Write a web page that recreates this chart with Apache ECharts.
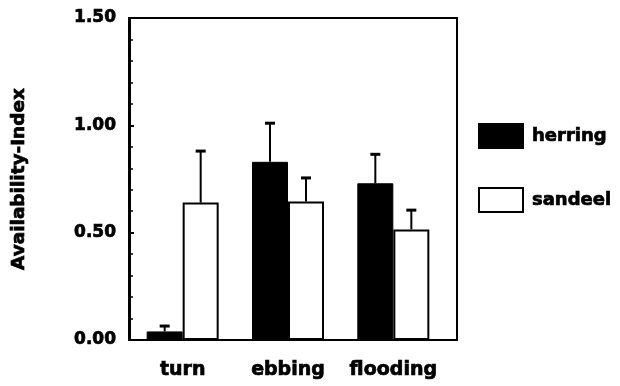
<!DOCTYPE html>
<html>
<head>
<meta charset="utf-8">
<script src="https://cdn.jsdelivr.net/npm/echarts@6/dist/echarts.min.js"></script>
<style>html,body{margin:0;padding:0;background:#fff}#c{width:620px;height:386px}</style>
</head>
<body>
<div id="c"></div>
<script>
var categories = ['turn', 'ebbing', 'flooding'];
var herring = [0.04, 0.83, 0.73];
var herringSE = [0.025, 0.18, 0.135];
var sandeel = [0.64, 0.645, 0.515];
var sandeelSE = [0.24, 0.11, 0.09];
var yTicks = [0, 0.5, 1.0, 1.5];

var FONT = 'DejaVu Sans';
var BAR_W = 36;
var HEAVY = { textBorderColor: '#000', textBorderWidth: 0.7 };

function errData(vals, se) {
  return vals.map(function (v, i) { return [i, v, v + se[i]]; });
}
function errRender(offset) {
  return function (params, api) {
    var base = api.coord([api.value(0), api.value(1)]);
    var top = api.coord([api.value(0), api.value(2)]);
    var x = base[0] + offset;
    return {
      type: 'group',
      children: [
        { type: 'line', shape: { x1: x, y1: base[1], x2: x, y2: top[1] }, style: { stroke: '#000', lineWidth: 2 } },
        { type: 'line', shape: { x1: x - 5, y1: top[1], x2: x + 5, y2: top[1] }, style: { stroke: '#000', lineWidth: 3 } }
      ]
    };
  };
}

var chart = echarts.init(document.getElementById('c'), null, { renderer: 'canvas' });
chart.setOption({
  animation: false,
  backgroundColor: '#fff',
  grid: [
    { left: 130, right: 174, top: 18, bottom: 46, show: false },
    { left: 129, right: 163, top: 18, bottom: 46, show: true, borderColor: '#000', borderWidth: 2, backgroundColor: 'transparent', z: 5 }
  ],
  legend: {
    orient: 'vertical', left: 473, top: 118,
    itemWidth: 44, itemHeight: 24, itemGap: 38,
    textStyle: Object.assign({ fontFamily: FONT, fontWeight: 'bold', fontSize: 18, color: '#000', padding: [0, 0, 0, 4] }, HEAVY),
    data: [
      { name: 'herring', icon: 'rect', itemStyle: { color: '#000', borderColor: '#000', borderWidth: 2 } },
      { name: 'sandeel', icon: 'rect', itemStyle: { color: '#fff', borderColor: '#000', borderWidth: 2 } }
    ]
  },
  xAxis: [
    {
      type: 'category', gridIndex: 0, data: categories,
      axisLine: { show: false }, axisTick: { show: false },
      axisLabel: Object.assign({ interval: 0, fontFamily: FONT, fontWeight: 'bold', fontSize: 19, color: '#000', margin: 21 }, HEAVY)
    },
    { type: 'value', gridIndex: 1, show: false, min: 0, max: 1 }
  ],
  yAxis: [
    {
      type: 'value', gridIndex: 0, min: 0, max: 1.5, interval: 0.5,
      name: 'Availability-Index', nameLocation: 'middle', nameGap: 101,
      nameTextStyle: Object.assign({ fontFamily: FONT, fontWeight: 'bold', fontSize: 18.5, color: '#000' }, HEAVY),
      axisLine: { show: true, lineStyle: { color: '#000', width: 2 } },
      axisTick: { show: true, inside: true, length: 4, lineStyle: { color: '#000', width: 2 } },
      minorTick: { show: true, splitNumber: 5, length: 3, lineStyle: { color: '#000', width: 1.5 } },
      splitLine: { show: false },
      axisLabel: Object.assign({
        fontFamily: FONT, fontWeight: 'bold', fontSize: 17, color: '#000', margin: 14,
        formatter: function (v) { return v.toFixed(2); }
      }, HEAVY)
    },
    { type: 'value', gridIndex: 1, show: false, min: 0, max: 1 }
  ],
  series: [
    {
      name: 'herring', type: 'bar', xAxisIndex: 0, yAxisIndex: 0, data: herring,
      barWidth: BAR_W, barGap: '0%',
      itemStyle: { color: '#000', borderColor: '#000', borderWidth: 1 }
    },
    {
      name: 'sandeel', type: 'bar', xAxisIndex: 0, yAxisIndex: 0, data: sandeel,
      barWidth: BAR_W, barGap: '0%',
      itemStyle: { color: '#fff', borderColor: '#000', borderWidth: 2 }
    },
    {
      type: 'custom', xAxisIndex: 0, yAxisIndex: 0, data: errData(herring, herringSE),
      renderItem: errRender(-BAR_W / 2), z: 3, silent: true
    },
    {
      type: 'custom', xAxisIndex: 0, yAxisIndex: 0, data: errData(sandeel, sandeelSE),
      renderItem: errRender(BAR_W / 2), z: 3, silent: true
    }
  ]
});
</script>
</body>
</html>
